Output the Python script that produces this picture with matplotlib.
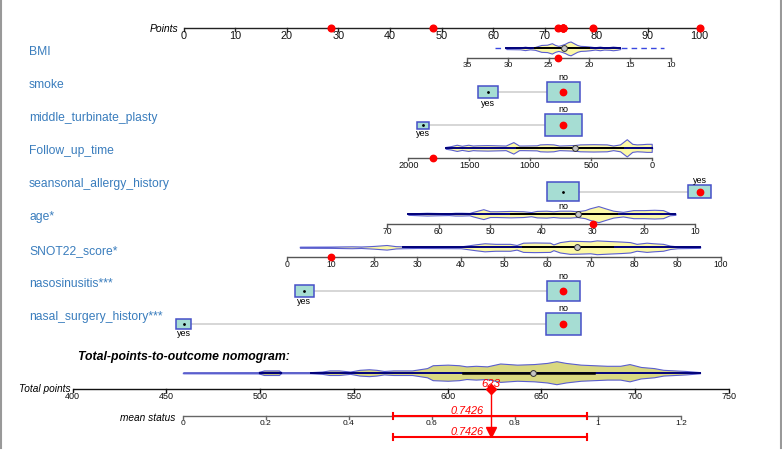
# -*- coding: utf-8 -*-
import numpy as np
import matplotlib.pyplot as plt
from matplotlib.patches import Rectangle
from matplotlib.lines import Line2D

plt.rcParams['font.family'] = ['Liberation Sans', 'DejaVu Sans']

# ---------------- data ----------------
var_names = ['BMI', 'smoke', 'middle_turbinate_plasty', 'Follow_up_time',
             'seansonal_allergy_history', 'age*', 'SNOT22_score*',
             'nasosinusitis***', 'nasal_surgery_history***']

point_ticks = list(range(0, 101, 10))

# continuous predictors: ticks, scale anchors (value0, points0, value1, points1)
bmi_ticks = [35, 30, 25, 20, 15, 10]
bmi_anchor = [35, 55.0, 10, 94.4]
bmi_obs = 23.9
bmi_v = [30.2, 28.5, 27.9, 27.3, 26.7, 25.9, 25.2, 24.6, 24.2, 23.8, 23.4, 23.0,
         22.6, 22.3, 21.9, 21.5, 21.1, 20.5, 19.9, 19.3, 18.7, 18.2, 17.5, 17.1, 16.6, 16.2]
bmi_d = [0.6, 0.8, 1.5, 0.8, 1.2, 3.0, 3.2, 4.5, 3.0, 2.2, 3.0, 4.0,
         5.5, 6.0, 4.5, 3.0, 2.2, 2.0, 1.6, 1.0, 1.6, 1.0, 1.2, 1.6, 1.2, 0.6]
bmi_range = [31.6, 10.8]
bmi_core = [30.2, 16.2]
bmi_iqr = [26.7, 20.0]
bmi_med = 23.1

fu_ticks = [2000, 1500, 1000, 500, 0]
fu_anchor = [2000, 43.57, 0, 90.74]
fu_obs = 1800
fu_v = [1693, 1650, 1602, 1560, 1507, 1470, 1438, 1350, 1274, 1200, 1137, 1090, 1055,
        945, 918, 860, 808, 760, 700, 630, 589, 480, 370, 317, 260, 205, 160, 123, 80, 41, 0]
fu_d = [0.8, 1.5, 2.7, 1.8, 2.7, 2.0, 2.2, 2.4, 2.2, 2.0, 5.0, 2.0, 2.0,
        2.2, 3.0, 3.2, 3.0, 2.0, 2.2, 2.5, 3.0, 3.2, 3.0, 2.0, 3.0, 7.5, 3.5, 3.0, 3.2, 3.5, 3.5]
fu_range = [1693, 0]
fu_core = [1693, 0]
fu_iqr = [1110, 240]
fu_med = 630

age_ticks = [70, 60, 50, 40, 30, 20, 10]
age_anchor = [70, 39.5, 10, 99.2]
age_obs = 30
age_v = [65.9, 62.3, 60.4, 58.0, 56.8, 55.5, 54.0, 53.3, 51.3, 50.0, 48.7, 46.0, 43.5,
         42.0, 40.9, 39.0, 37.7, 36.4, 34.4, 33.0, 31.5, 30.6, 28.9, 27.5, 26.0, 24.1,
         22.1, 20.0, 18.0, 16.3, 15.0, 13.9]
age_d = [0.6, 1.2, 1.0, 0.8, 1.2, 1.2, 1.0, 2.0, 4.3, 2.5, 2.5, 2.8, 2.5,
         1.8, 2.8, 3.0, 2.5, 3.0, 3.0, 2.5, 3.5, 5.0, 7.0, 5.0, 3.0, 2.0,
         3.5, 3.5, 3.8, 3.5, 1.0, 0.6]
age_range = [65.9, 13.9]
age_core = [65.9, 13.9]
age_iqr = [46.0, 25.3]
age_med = 32.8

snot_ticks = list(range(0, 101, 10))
snot_anchor = [0, 20.14, 100, 104.1]
snot_obs = 10
snot_v = [2.9, 10, 14.8, 17, 20, 22.9, 25, 26.7, 30, 40, 43.3, 45.5, 48, 51.4, 52.9,
          54.4, 57, 60.6, 61.4, 62.9, 65.2, 67.5, 69.9, 71.4, 74, 77, 79.1, 80.6,
          82.9, 84.5, 86.7, 88.3, 90, 95.2]
snot_d = [0.4, 0.5, 0.8, 0.6, 1.2, 2.0, 1.0, 0.8, 0.6, 0.8, 2.5, 3.5, 3.0, 3.0, 2.0,
          4.0, 4.2, 4.0, 2.5, 4.5, 5.7, 5.5, 5.2, 6.0, 5.5, 5.0, 4.5, 3.0,
          4.0, 3.5, 3.0, 1.5, 0.8, 0.5]
snot_range = [2.9, 95.2]
snot_core = [26.7, 95.2]
snot_iqr = [54.4, 75.2]
snot_med = 66.9

# categorical predictors: levels, points, relative frequency, observed level
smoke_lv, smoke_pts, smoke_frq, smoke_obs = ['no', 'yes'], [73.6, 59.0], [0.72, 0.28], 'no'
mtp_lv, mtp_pts, mtp_frq, mtp_obs = ['no', 'yes'], [73.6, 46.4], [0.90, 0.10], 'no'
sah_lv, sah_pts, sah_frq, sah_obs = ['no', 'yes'], [73.6, 100.0], [0.67, 0.33], 'yes'
naso_lv, naso_pts, naso_frq, naso_obs = ['no', 'yes'], [73.6, 23.4], [0.75, 0.25], 'no'
nsh_lv, nsh_pts, nsh_frq, nsh_obs = ['no', 'yes'], [73.6, 0.0], [0.84, 0.16], 'no'

# total points scale and its distribution
total_ticks = [400, 450, 500, 550, 600, 650, 700, 750]
total_anchor = [400, -21.47, 750, 105.7]
tot_v = [459, 499, 502, 510, 511, 527, 533, 537, 542, 548, 553, 558, 562, 566, 571, 575,
         581, 585, 589, 592, 600, 606, 610, 615, 621, 628, 637, 646, 653, 658, 663, 671,
         678, 685, 692, 697, 703, 710, 715, 727, 734.6]
tot_d = [0.4, 0.5, 2.0, 2.0, 0.5, 0.5, 1.0, 2.0, 2.0, 1.0, 2.5, 3.0, 2.5, 1.5, 2.0, 2.0,
         2.0, 3.0, 4.0, 6.5, 7.0, 6.5, 5.5, 6.0, 5.5, 8.0, 7.0, 7.5, 8.5, 10.0, 8.5, 7.0,
         6.5, 6.0, 6.0, 7.5, 5.0, 4.0, 2.5, 1.5, 0.5]
tot_iqr = [608, 678]
tot_med = 645.6

# outcome scale
ms_ticks = [0, 0.2, 0.4, 0.6, 0.8, 1.0, 1.2]
ms_labels = ['0', '0.2', '0.4', '0.6', '0.8', '1', '1.2']
ms_anchor = [0, -0.155, 1.2, 96.4]
ms_est = 0.7426
ms_ci = [0.507, 0.974]

# ---------------- drawing ----------------
PX = 5.16      # pixels per point unit
X0 = 183.5     # pixel position of 0 points
BOX_W, BOX_H = 38.6, 23.3
LBL = '#3a7dbd'
VIO_EDGE = '#5a5ecf'
VIO_K = 1.15   # density -> half height in pixels


def px(xp):
    return (xp - X0) / PX


def pmap(v, a):
    v0, p0, v1, p1 = a
    return p0 + (np.asarray(v, float) - v0) * (p1 - p0) / (v1 - v0)


fig = plt.figure(figsize=(7.82, 4.63), dpi=100)
ax = fig.add_axes([0, 0, 1, 1])
ax.set_xlim(px(0), px(782))
ax.set_ylim(463, 0)
ax.axis('off')


def draw_scale(y, ticks, labels, anchor, fs, color='#555555', dy=7.5, tl=2.8, lw=1.0):
    xs = pmap(ticks, anchor)
    ax.plot([xs.min(), xs.max()], [y, y], color=color, lw=lw, solid_capstyle='butt', zorder=2)
    for x, lab in zip(xs, labels):
        ax.plot([x, x], [y, y + tl], color=color, lw=lw, zorder=2)
        ax.text(x, y + dy, lab, ha='center', va='center', fontsize=fs, color='#111111')


def draw_violin(y, v, d, anchor, rng, core, iqr, med, fill='#fcf9a6', dashed=False):
    xs = pmap(v, anchor)
    d = np.asarray(d, float) * VIO_K
    ax.plot(pmap(rng, anchor), [y, y], color='#3a48e0', lw=1.0,
            ls=(0, (4, 3)) if dashed else '-', zorder=2)
    ax.fill_between(xs, y - d, y + d, facecolor=fill, edgecolor=VIO_EDGE, lw=0.8, zorder=3)
    ax.plot(pmap(core, anchor), [y, y], color='#00007a', lw=1.4, zorder=4)
    ax.plot(pmap(iqr, anchor), [y, y], color='black', lw=1.4, zorder=5)
    ax.plot(pmap(med, anchor), y, 'o', ms=4.2, mfc='#c4c4c4', mec='#333333', mew=0.7, zorder=6)


def draw_boxes(yc, levels, pts, frq, obs):
    ax.plot([min(pts), max(pts)], [yc, yc], color='#cfcfcf', lw=1.2, zorder=1)
    for lv, p, f in zip(levels, pts, frq):
        w = BOX_W * np.sqrt(f) / PX
        h = BOX_H * np.sqrt(f)
        ax.add_patch(Rectangle((p - w / 2, yc - h / 2), w, h, facecolor='#a6ddd3',
                               edgecolor='#4650c8', lw=1.1, zorder=3))
        if lv == obs:
            ax.plot(p, yc, 'o', color='red', ms=4.6, zorder=4)
            ax.text(p, yc - h / 2 - 4.6, lv, ha='center', va='center', fontsize=6.5)
        else:
            ax.plot(p, yc, 'o', color='black', ms=1.0, zorder=4)
            ax.text(p, yc + h / 2 + 5.0, lv, ha='center', va='center', fontsize=6.5)


# Points axis
py = 28.3
draw_scale(py, point_ticks, [str(t) for t in point_ticks], [0, 0, 100, 100], 7.8,
           color='#222222', dy=7.6)
ax.text(px(178), py + 1, 'Points', ha='right', va='center', style='italic', fontsize=7.5)

# row labels
rows = [51.7 + 33.15 * i for i in range(len(var_names))]
for name, ry in zip(var_names, rows):
    ax.text(px(29), ry, name, ha='left', va='center', fontsize=8.7, color=LBL)

obs_points = []

# continuous rows
cont = [
    (0, bmi_ticks, bmi_anchor, bmi_obs, bmi_v, bmi_d, bmi_range, bmi_core, bmi_iqr, bmi_med, True, 6.0),
    (3, fu_ticks, fu_anchor, fu_obs, fu_v, fu_d, fu_range, fu_core, fu_iqr, fu_med, False, 6.6),
    (5, age_ticks, age_anchor, age_obs, age_v, age_d, age_range, age_core, age_iqr, age_med, False, 6.2),
    (6, snot_ticks, snot_anchor, snot_obs, snot_v, snot_d, snot_range, snot_core, snot_iqr, snot_med, False, 6.2),
]
for i, tk, an, ob, v, d, rg, co, iq, md, dash, fs in cont:
    ry = rows[i]
    ax_y = ry + 6.4
    draw_scale(ax_y, tk, [str(t) for t in tk], an, fs, dy=7.5)
    draw_violin(ry - 3.3, v, d, an, rg, co, iq, md, dashed=dash)
    p = float(pmap(ob, an))
    ax.plot(p, ax_y, 'o', color='red', ms=4.6, zorder=6)
    obs_points.append(p)

# categorical rows
cats = [
    (1, smoke_lv, smoke_pts, smoke_frq, smoke_obs),
    (2, mtp_lv, mtp_pts, mtp_frq, mtp_obs),
    (4, sah_lv, sah_pts, sah_frq, sah_obs),
    (7, naso_lv, naso_pts, naso_frq, naso_obs),
    (8, nsh_lv, nsh_pts, nsh_frq, nsh_obs),
]
for i, lv, pts, frq, ob in cats:
    draw_boxes(rows[i] + 7.2, lv, pts, frq, ob)
    obs_points.append(pts[lv.index(ob)])

ax.plot(obs_points, [py] * len(obs_points), 'o', color='red', ms=4.8, zorder=6)

# total points section
ax.text(px(78.3), 356.7, 'Total-points-to-outcome nomogram:', ha='left', va='center',
        fontsize=8.8, fontweight='bold', style='italic')

ty = 389.3
my = 415.7
draw_scale(ty, total_ticks, [str(t) for t in total_ticks], total_anchor, 6.5,
           color='#111111', dy=7.4)
ax.text(px(71), ty, 'Total points', ha='right', va='center', style='italic', fontsize=7.3)

tv = pmap(tot_v, total_anchor)
tvy = 372.7
td = np.array(tot_d) * VIO_K
ax.plot(pmap([459, 500], total_anchor), [tvy, tvy], color='#4a55e0', lw=1.0, zorder=2)
ax.plot(pmap([511, 527], total_anchor), [tvy, tvy], color='#777777', lw=1.2, zorder=2)
ax.fill_between(tv, tvy - td, tvy + td, facecolor='#d9d880',
                edgecolor=VIO_EDGE, lw=0.8, zorder=3)
ax.plot(pmap([500, 511], total_anchor), [tvy, tvy], color='#00007a', lw=1.6, zorder=4)
ax.plot(pmap([527, 734.6], total_anchor), [tvy, tvy], color='#00007a', lw=1.4, zorder=4)
ax.plot(pmap(tot_iqr, total_anchor), [tvy, tvy], color='black', lw=1.8, zorder=5)
ax.plot(pmap(tot_med, total_anchor), tvy, 'o', ms=4.2, mfc='#c4c4c4', mec='#333333',
        mew=0.7, zorder=6)

draw_scale(my, ms_ticks, ms_labels, ms_anchor, 6.0, color='#666666', dy=7.6)
ax.text(px(175.7), my + 2, 'mean status', ha='right', va='center', style='italic', fontsize=7.3)

# observed total and predicted outcome
total = sum(obs_points)
xt = float(pmap(total, total_anchor))
ax.plot([xt, xt], [ty, 432], color='red', lw=1.0, zorder=6)
ax.plot(xt, ty, 'D', color='red', ms=4.8, zorder=7)
ax.plot(xt, 432, 'v', color='red', ms=6.5, zorder=7)
ax.text(xt, ty - 5.5, f'{total:.0f}', ha='center', va='center', color='red',
        style='italic', fontsize=8.2)

ci = pmap(ms_ci, ms_anchor)
xe = float(pmap(ms_est, ms_anchor))
for cy in [my, my + 21]:
    ax.plot(ci, [cy, cy], color='red', lw=1.5, zorder=6)
    for c in ci:
        ax.plot([c, c], [cy - 3, cy + 3], color='red', lw=1.5, zorder=6)
    ax.text(xe - px(X0 + 7.5), cy - 4.7, f'{ms_est:.4f}', ha='right', va='center',
            color='red', style='italic', fontsize=7.8)

# outer frame lines
for fx in [1 / 782, 781 / 782]:
    fig.add_artist(Line2D([fx, fx], [1 - 448 / 463, 1], color='#999999', lw=1.5))

fig.savefig('out.png', dpi=100)
